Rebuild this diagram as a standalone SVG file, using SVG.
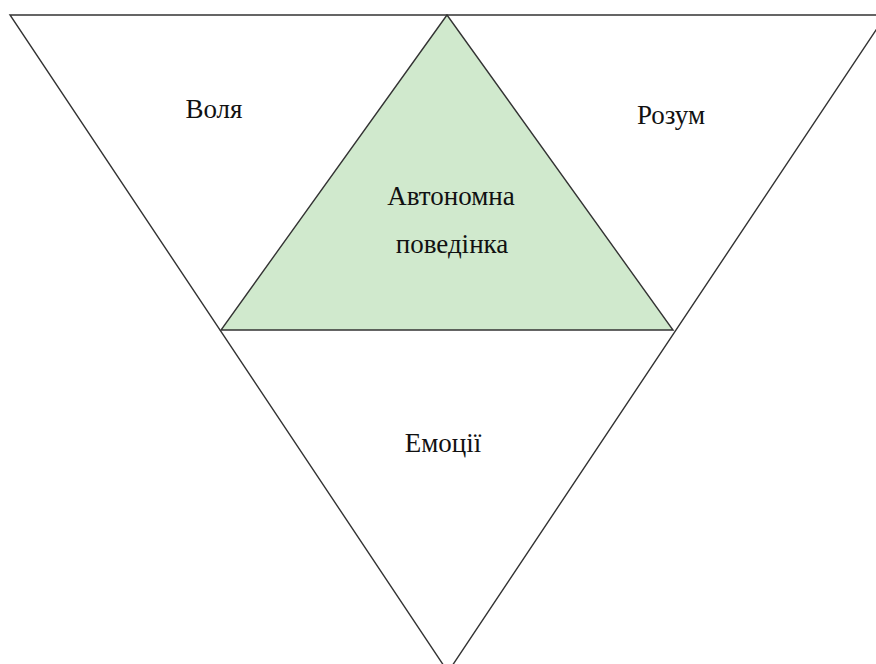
<svg xmlns="http://www.w3.org/2000/svg" width="876" height="664" viewBox="0 0 876 664">
<style>
.edge{fill:none;stroke:#333;stroke-width:1.4;stroke-linejoin:miter}
.lbl{font-family:"Liberation Serif","Times New Roman",serif;font-size:27px;fill:#111;text-anchor:middle}
</style>
<rect width="876" height="664" fill="#fff"/>
<g id="connectors">
<polygon class="edge" points="10,15 886,15 448,672"/>
</g>
<g id="center">
<polygon points="447,15 221,330 673,330" fill="#d0e9cd" stroke="#333" stroke-width="1.4"/>
<text class="lbl" x="451" y="205">Автономна</text>
<text class="lbl" x="452" y="253">поведінка</text>
</g>
<g id="volia"><text class="lbl" x="214" y="118">Воля</text></g>
<g id="rozum"><text class="lbl" x="671" y="124">Розум</text></g>
<g id="emotsii"><text class="lbl" x="443" y="452">Емоції</text></g>
</svg>
